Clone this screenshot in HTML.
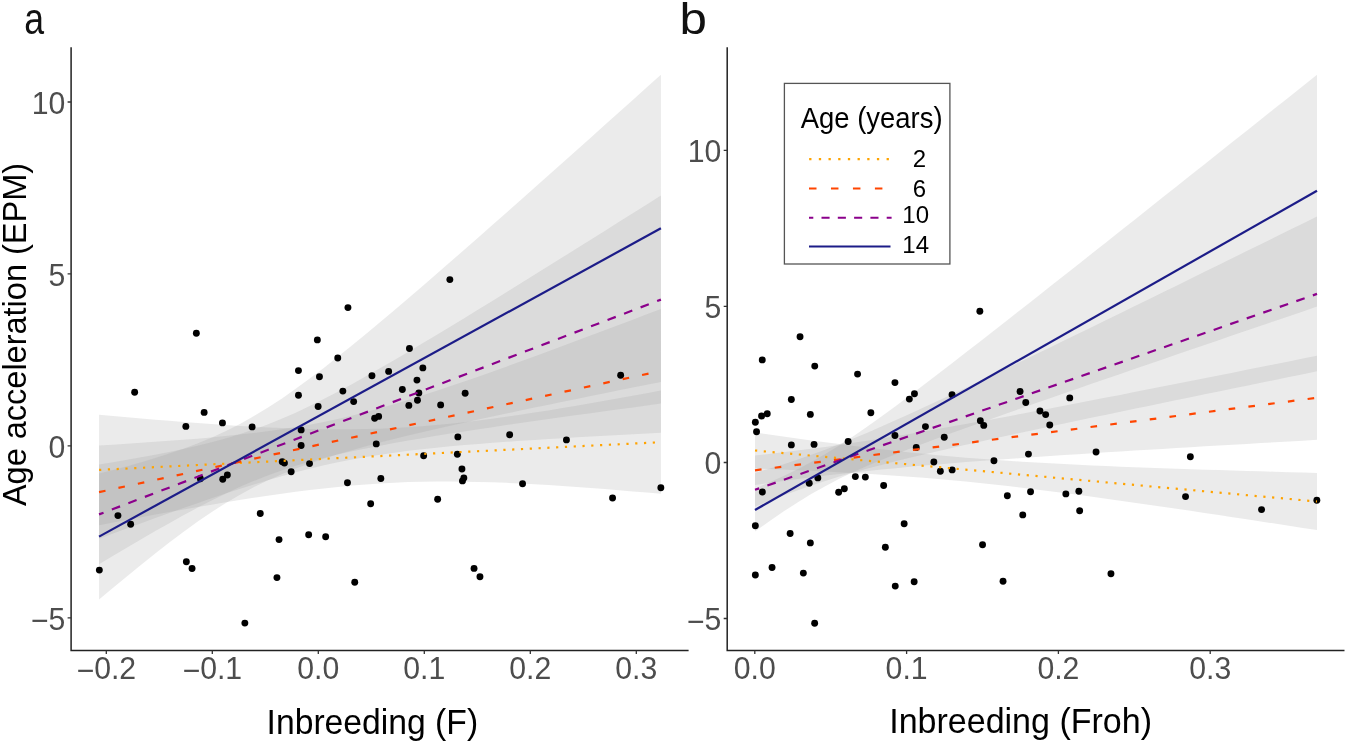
<!DOCTYPE html>
<html><head><meta charset="utf-8"><style>
html,body{margin:0;padding:0;background:#fff;width:1346px;height:742px;overflow:hidden}
svg{display:block;font-family:"Liberation Sans",sans-serif;will-change:transform}
</style></head><body>
<svg width="1346" height="742" viewBox="0 0 1346 742">
<rect width="1346" height="742" fill="#fff"/>
<path d="M99.05,414.65 L113.1,415.94 L127.14,417.2 L141.19,418.44 L155.24,419.64 L169.28,420.8 L183.33,421.93 L197.37,423.01 L211.42,424.03 L225.47,424.99 L239.51,425.89 L253.56,426.71 L267.61,427.44 L281.65,428.07 L295.7,428.59 L309.74,428.99 L323.79,429.24 L337.84,429.35 L351.88,429.29 L365.93,429.05 L379.98,428.63 L394.02,428.01 L408.07,427.21 L422.11,426.21 L436.16,425.03 L450.21,423.68 L464.25,422.16 L478.3,420.5 L492.35,418.69 L506.39,416.77 L520.44,414.73 L534.48,412.6 L548.53,410.38 L562.58,408.09 L576.62,405.73 L590.67,403.31 L604.72,400.84 L618.76,398.32 L632.81,395.77 L646.85,393.17 L660.9,390.55 L660.9,493.85 L646.85,492.61 L632.81,491.4 L618.76,490.23 L604.72,489.1 L590.67,488.01 L576.62,486.98 L562.58,486 L548.53,485.1 L534.48,484.26 L520.44,483.52 L506.39,482.87 L492.35,482.33 L478.3,481.91 L464.25,481.63 L450.21,481.49 L436.16,481.53 L422.11,481.73 L408.07,482.12 L394.02,482.7 L379.98,483.47 L365.93,484.44 L351.88,485.58 L337.84,486.91 L323.79,488.4 L309.74,490.04 L295.7,491.82 L281.65,493.73 L267.61,495.74 L253.56,497.86 L239.51,500.06 L225.47,502.34 L211.42,504.69 L197.37,507.1 L183.33,509.56 L169.28,512.07 L155.24,514.62 L141.19,517.21 L127.14,519.83 L113.1,522.48 L99.05,525.15Z" fill="#999999" fill-opacity="0.2"/>
<path d="M99.05,445.47 L113.1,444.63 L127.14,443.75 L141.19,442.83 L155.24,441.87 L169.28,440.86 L183.33,439.79 L197.37,438.64 L211.42,437.41 L225.47,436.07 L239.51,434.61 L253.56,433.01 L267.61,431.24 L281.65,429.27 L295.7,427.08 L309.74,424.64 L323.79,421.93 L337.84,418.94 L351.88,415.66 L365.93,412.11 L379.98,408.3 L394.02,404.26 L408.07,400.02 L422.11,395.6 L436.16,391.03 L450.21,386.34 L464.25,381.54 L478.3,376.64 L492.35,371.68 L506.39,366.64 L520.44,361.56 L534.48,356.42 L548.53,351.25 L562.58,346.04 L576.62,340.8 L590.67,335.54 L604.72,330.25 L618.76,324.95 L632.81,319.63 L646.85,314.29 L660.9,308.94 L660.9,432.86 L646.85,433.57 L632.81,434.29 L618.76,435.03 L604.72,435.79 L590.67,436.56 L576.62,437.36 L562.58,438.18 L548.53,439.03 L534.48,439.92 L520.44,440.84 L506.39,441.82 L492.35,442.84 L478.3,443.94 L464.25,445.1 L450.21,446.36 L436.16,447.73 L422.11,449.22 L408.07,450.86 L394.02,452.68 L379.98,454.7 L365.93,456.95 L351.88,459.46 L337.84,462.24 L323.79,465.31 L309.74,468.66 L295.7,472.28 L281.65,476.15 L267.61,480.24 L253.56,484.53 L239.51,488.99 L225.47,493.59 L211.42,498.31 L197.37,503.14 L183.33,508.05 L169.28,513.04 L155.24,518.09 L141.19,523.19 L127.14,528.33 L113.1,533.51 L99.05,538.73Z" fill="#999999" fill-opacity="0.2"/>
<path d="M99.05,464.6 L113.1,462.28 L127.14,459.87 L141.19,457.36 L155.24,454.73 L169.28,451.95 L183.33,448.99 L197.37,445.79 L211.42,442.31 L225.47,438.49 L239.51,434.28 L253.56,429.61 L267.61,424.44 L281.65,418.78 L295.7,412.63 L309.74,406.03 L323.79,399.05 L337.84,391.74 L351.88,384.15 L365.93,376.34 L379.98,368.35 L394.02,360.22 L408.07,351.97 L422.11,343.62 L436.16,335.19 L450.21,326.69 L464.25,318.14 L478.3,309.55 L492.35,300.91 L506.39,292.24 L520.44,283.54 L534.48,274.82 L548.53,266.08 L562.58,257.31 L576.62,248.53 L590.67,239.74 L604.72,230.93 L618.76,222.11 L632.81,213.29 L646.85,204.45 L660.9,195.6 L660.9,403.6 L646.85,405.49 L632.81,407.39 L618.76,409.31 L604.72,411.23 L590.67,413.16 L576.62,415.11 L562.58,417.07 L548.53,419.04 L534.48,421.04 L520.44,423.06 L506.39,425.1 L492.35,427.17 L478.3,429.27 L464.25,431.42 L450.21,433.61 L436.16,435.85 L422.11,438.16 L408.07,440.55 L394.02,443.04 L379.98,445.65 L365.93,448.4 L351.88,451.33 L337.84,454.48 L323.79,457.91 L309.74,461.67 L295.7,465.81 L281.65,470.4 L267.61,475.48 L253.56,481.05 L239.51,487.12 L225.47,493.65 L211.42,500.57 L197.37,507.83 L183.33,515.37 L169.28,523.15 L155.24,531.11 L141.19,539.22 L127.14,547.45 L113.1,555.78 L99.05,564.2Z" fill="#999999" fill-opacity="0.2"/>
<path d="M99.05,473.6 L113.1,470 L127.14,466.24 L141.19,462.29 L155.24,458.1 L169.28,453.62 L183.33,448.78 L197.37,443.5 L211.42,437.68 L225.47,431.26 L239.51,424.15 L253.56,416.34 L267.61,407.81 L281.65,398.63 L295.7,388.86 L309.74,378.58 L323.79,367.89 L337.84,356.86 L351.88,345.56 L365.93,334.03 L379.98,322.32 L394.02,310.46 L408.07,298.49 L422.11,286.42 L436.16,274.26 L450.21,262.04 L464.25,249.75 L478.3,237.42 L492.35,225.05 L506.39,212.64 L520.44,200.19 L534.48,187.73 L548.53,175.23 L562.58,162.72 L576.62,150.19 L590.67,137.64 L604.72,125.07 L618.76,112.5 L632.81,99.91 L646.85,87.31 L660.9,74.7 L660.9,381.9 L646.85,384.71 L632.81,387.52 L618.76,390.35 L604.72,393.19 L590.67,396.04 L576.62,398.9 L562.58,401.79 L548.53,404.69 L534.48,407.61 L520.44,410.56 L506.39,413.53 L492.35,416.53 L478.3,419.57 L464.25,422.66 L450.21,425.79 L436.16,428.98 L422.11,432.24 L408.07,435.58 L394.02,439.02 L379.98,442.58 L365.93,446.29 L351.88,450.17 L337.84,454.28 L323.79,458.67 L309.74,463.39 L295.7,468.53 L281.65,474.17 L267.61,480.41 L253.56,487.3 L239.51,494.9 L225.47,503.21 L211.42,512.2 L197.37,521.8 L183.33,531.93 L169.28,542.5 L155.24,553.44 L141.19,564.66 L127.14,576.13 L113.1,587.79 L99.05,599.6Z" fill="#999999" fill-opacity="0.2"/>
<path d="M755,432.57 L769.05,434.58 L783.1,436.55 L797.15,438.49 L811.2,440.4 L825.25,442.27 L839.3,444.1 L853.35,445.88 L867.4,447.6 L881.45,449.26 L895.5,450.86 L909.55,452.38 L923.6,453.83 L937.65,455.19 L951.7,456.48 L965.75,457.68 L979.8,458.81 L993.85,459.85 L1007.9,460.83 L1021.95,461.73 L1036,462.57 L1050.05,463.36 L1064.1,464.1 L1078.15,464.79 L1092.2,465.44 L1106.25,466.05 L1120.3,466.64 L1134.35,467.19 L1148.4,467.72 L1162.45,468.23 L1176.5,468.72 L1190.55,469.19 L1204.6,469.65 L1218.65,470.09 L1232.7,470.53 L1246.75,470.95 L1260.8,471.36 L1274.85,471.76 L1288.9,472.16 L1302.95,472.54 L1317,472.93 L1317,530.07 L1302.95,527.91 L1288.9,525.74 L1274.85,523.59 L1260.8,521.44 L1246.75,519.3 L1232.7,517.17 L1218.65,515.06 L1204.6,512.95 L1190.55,510.86 L1176.5,508.78 L1162.45,506.72 L1148.4,504.68 L1134.35,502.66 L1120.3,500.66 L1106.25,498.7 L1092.2,496.76 L1078.15,494.86 L1064.1,493 L1050.05,491.19 L1036,489.43 L1021.95,487.72 L1007.9,486.07 L993.85,484.5 L979.8,482.99 L965.75,481.57 L951.7,480.22 L937.65,478.96 L923.6,477.77 L909.55,476.67 L895.5,475.64 L881.45,474.69 L867.4,473.8 L853.35,472.97 L839.3,472.2 L825.25,471.48 L811.2,470.8 L797.15,470.16 L783.1,469.55 L769.05,468.97 L755,468.43Z" fill="#999999" fill-opacity="0.2"/>
<path d="M755,455.6 L769.05,454.02 L783.1,452.35 L797.15,450.61 L811.2,448.79 L825.25,446.88 L839.3,444.89 L853.35,442.83 L867.4,440.69 L881.45,438.49 L895.5,436.22 L909.55,433.9 L923.6,431.52 L937.65,429.09 L951.7,426.62 L965.75,424.11 L979.8,421.57 L993.85,418.99 L1007.9,416.39 L1021.95,413.76 L1036,411.11 L1050.05,408.45 L1064.1,405.76 L1078.15,403.06 L1092.2,400.34 L1106.25,397.61 L1120.3,394.88 L1134.35,392.12 L1148.4,389.36 L1162.45,386.6 L1176.5,383.82 L1190.55,381.04 L1204.6,378.25 L1218.65,375.45 L1232.7,372.65 L1246.75,369.84 L1260.8,367.03 L1274.85,364.22 L1288.9,361.4 L1302.95,358.57 L1317,355.75 L1317,439.85 L1302.95,440.65 L1288.9,441.45 L1274.85,442.26 L1260.8,443.07 L1246.75,443.88 L1232.7,444.7 L1218.65,445.52 L1204.6,446.35 L1190.55,447.19 L1176.5,448.03 L1162.45,448.88 L1148.4,449.74 L1134.35,450.6 L1120.3,451.47 L1106.25,452.36 L1092.2,453.26 L1078.15,454.17 L1064.1,455.09 L1050.05,456.03 L1036,456.99 L1021.95,457.96 L1007.9,458.96 L993.85,459.98 L979.8,461.03 L965.75,462.12 L951.7,463.23 L937.65,464.39 L923.6,465.58 L909.55,466.83 L895.5,468.13 L881.45,469.49 L867.4,470.91 L853.35,472.39 L839.3,473.96 L825.25,475.6 L811.2,477.31 L797.15,479.12 L783.1,481 L769.05,482.96 L755,485Z" fill="#999999" fill-opacity="0.2"/>
<path d="M755,472.91 L769.05,468.78 L783.1,464.42 L797.15,459.78 L811.2,454.87 L825.25,449.68 L839.3,444.22 L853.35,438.53 L867.4,432.63 L881.45,426.56 L895.5,420.35 L909.55,414.01 L923.6,407.58 L937.65,401.08 L951.7,394.5 L965.75,387.88 L979.8,381.21 L993.85,374.5 L1007.9,367.77 L1021.95,361 L1036,354.22 L1050.05,347.41 L1064.1,340.59 L1078.15,333.76 L1092.2,326.91 L1106.25,320.05 L1120.3,313.19 L1134.35,306.31 L1148.4,299.43 L1162.45,292.54 L1176.5,285.64 L1190.55,278.74 L1204.6,271.83 L1218.65,264.92 L1232.7,258.01 L1246.75,251.09 L1260.8,244.17 L1274.85,237.24 L1288.9,230.32 L1302.95,223.39 L1317,216.46 L1317,371.34 L1302.95,374.21 L1288.9,377.07 L1274.85,379.94 L1260.8,382.81 L1246.75,385.68 L1232.7,388.56 L1218.65,391.44 L1204.6,394.33 L1190.55,397.21 L1176.5,400.11 L1162.45,403.01 L1148.4,405.91 L1134.35,408.82 L1120.3,411.74 L1106.25,414.67 L1092.2,417.61 L1078.15,420.56 L1064.1,423.52 L1050.05,426.49 L1036,429.48 L1021.95,432.49 L1007.9,435.52 L993.85,438.58 L979.8,441.67 L965.75,444.8 L951.7,447.97 L937.65,451.19 L923.6,454.48 L909.55,457.84 L895.5,461.3 L881.45,464.88 L867.4,468.61 L853.35,472.5 L839.3,476.61 L825.25,480.95 L811.2,485.55 L797.15,490.43 L783.1,495.59 L769.05,501.02 L755,506.69Z" fill="#999999" fill-opacity="0.2"/>
<path d="M755,488.6 L769.05,482.62 L783.1,476.28 L797.15,469.46 L811.2,462.07 L825.25,454.04 L839.3,445.38 L853.35,436.15 L867.4,426.47 L881.45,416.44 L895.5,406.14 L909.55,395.66 L923.6,385.03 L937.65,374.3 L951.7,363.48 L965.75,352.6 L979.8,341.67 L993.85,330.7 L1007.9,319.7 L1021.95,308.68 L1036,297.63 L1050.05,286.56 L1064.1,275.48 L1078.15,264.38 L1092.2,253.28 L1106.25,242.16 L1120.3,231.03 L1134.35,219.9 L1148.4,208.76 L1162.45,197.62 L1176.5,186.47 L1190.55,175.32 L1204.6,164.16 L1218.65,153 L1232.7,141.84 L1246.75,130.67 L1260.8,119.5 L1274.85,108.33 L1288.9,97.15 L1302.95,85.98 L1317,74.8 L1317,306.6 L1302.95,311.39 L1288.9,316.18 L1274.85,320.97 L1260.8,325.76 L1246.75,330.56 L1232.7,335.35 L1218.65,340.15 L1204.6,344.96 L1190.55,349.77 L1176.5,354.58 L1162.45,359.39 L1148.4,364.22 L1134.35,369.04 L1120.3,373.88 L1106.25,378.72 L1092.2,383.56 L1078.15,388.42 L1064.1,393.29 L1050.05,398.18 L1036,403.07 L1021.95,407.99 L1007.9,412.93 L993.85,417.89 L979.8,422.89 L965.75,427.92 L951.7,433.01 L937.65,438.16 L923.6,443.39 L909.55,448.72 L895.5,454.21 L881.45,459.88 L867.4,465.81 L853.35,472.09 L839.3,478.83 L825.25,486.13 L811.2,494.07 L797.15,502.64 L783.1,511.79 L769.05,521.42 L755,531.4Z" fill="#999999" fill-opacity="0.2"/>
<g fill="#000">
<circle cx="196.35" cy="333.20" r="3.45"/>
<circle cx="134.65" cy="392.20" r="3.45"/>
<circle cx="317.35" cy="339.90" r="3.45"/>
<circle cx="298.45" cy="370.60" r="3.45"/>
<circle cx="319.45" cy="376.80" r="3.45"/>
<circle cx="298.45" cy="395.20" r="3.45"/>
<circle cx="318.15" cy="406.50" r="3.45"/>
<circle cx="204.15" cy="412.40" r="3.45"/>
<circle cx="185.85" cy="426.40" r="3.45"/>
<circle cx="222.45" cy="422.90" r="3.45"/>
<circle cx="252.15" cy="426.90" r="3.45"/>
<circle cx="301.15" cy="429.90" r="3.45"/>
<circle cx="301.15" cy="445.50" r="3.45"/>
<circle cx="282.25" cy="461.80" r="3.45"/>
<circle cx="284.45" cy="463.10" r="3.45"/>
<circle cx="309.55" cy="463.60" r="3.45"/>
<circle cx="291.15" cy="471.70" r="3.45"/>
<circle cx="200.35" cy="478.70" r="3.45"/>
<circle cx="222.75" cy="479.30" r="3.45"/>
<circle cx="227.35" cy="475.00" r="3.45"/>
<circle cx="117.95" cy="515.60" r="3.45"/>
<circle cx="130.65" cy="524.30" r="3.45"/>
<circle cx="260.25" cy="513.50" r="3.45"/>
<circle cx="279.05" cy="539.60" r="3.45"/>
<circle cx="308.65" cy="534.80" r="3.45"/>
<circle cx="325.65" cy="536.70" r="3.45"/>
<circle cx="99.35" cy="570.10" r="3.45"/>
<circle cx="186.35" cy="561.70" r="3.45"/>
<circle cx="192.05" cy="568.50" r="3.45"/>
<circle cx="276.95" cy="577.60" r="3.45"/>
<circle cx="244.85" cy="623.10" r="3.45"/>
<circle cx="449.85" cy="279.60" r="3.45"/>
<circle cx="347.95" cy="307.60" r="3.45"/>
<circle cx="337.75" cy="358.00" r="3.45"/>
<circle cx="409.45" cy="348.50" r="3.45"/>
<circle cx="371.95" cy="375.80" r="3.45"/>
<circle cx="388.65" cy="371.40" r="3.45"/>
<circle cx="422.85" cy="367.90" r="3.45"/>
<circle cx="416.95" cy="380.10" r="3.45"/>
<circle cx="342.85" cy="391.10" r="3.45"/>
<circle cx="402.35" cy="389.50" r="3.45"/>
<circle cx="418.85" cy="393.00" r="3.45"/>
<circle cx="465.15" cy="393.30" r="3.45"/>
<circle cx="353.65" cy="401.60" r="3.45"/>
<circle cx="408.85" cy="405.40" r="3.45"/>
<circle cx="417.45" cy="400.30" r="3.45"/>
<circle cx="440.65" cy="404.90" r="3.45"/>
<circle cx="374.65" cy="418.30" r="3.45"/>
<circle cx="378.65" cy="416.40" r="3.45"/>
<circle cx="376.25" cy="443.90" r="3.45"/>
<circle cx="457.85" cy="436.90" r="3.45"/>
<circle cx="509.65" cy="434.80" r="3.45"/>
<circle cx="566.45" cy="439.90" r="3.45"/>
<circle cx="423.65" cy="455.80" r="3.45"/>
<circle cx="457.35" cy="454.20" r="3.45"/>
<circle cx="461.95" cy="469.00" r="3.45"/>
<circle cx="463.85" cy="477.90" r="3.45"/>
<circle cx="462.45" cy="480.90" r="3.45"/>
<circle cx="347.45" cy="482.80" r="3.45"/>
<circle cx="380.85" cy="478.50" r="3.45"/>
<circle cx="522.55" cy="483.80" r="3.45"/>
<circle cx="370.65" cy="503.80" r="3.45"/>
<circle cx="437.65" cy="499.20" r="3.45"/>
<circle cx="354.75" cy="582.20" r="3.45"/>
<circle cx="474.05" cy="568.40" r="3.45"/>
<circle cx="479.95" cy="576.80" r="3.45"/>
<circle cx="620.65" cy="375.30" r="3.45"/>
<circle cx="660.85" cy="487.80" r="3.45"/>
<circle cx="612.55" cy="498.00" r="3.45"/>
<circle cx="800.05" cy="336.70" r="3.45"/>
<circle cx="762.25" cy="359.90" r="3.45"/>
<circle cx="814.75" cy="366.10" r="3.45"/>
<circle cx="857.55" cy="374.10" r="3.45"/>
<circle cx="894.95" cy="382.60" r="3.45"/>
<circle cx="914.45" cy="393.80" r="3.45"/>
<circle cx="909.35" cy="399.10" r="3.45"/>
<circle cx="952.05" cy="394.70" r="3.45"/>
<circle cx="791.35" cy="399.50" r="3.45"/>
<circle cx="767.25" cy="413.70" r="3.45"/>
<circle cx="761.55" cy="416.00" r="3.45"/>
<circle cx="810.35" cy="414.40" r="3.45"/>
<circle cx="870.85" cy="412.80" r="3.45"/>
<circle cx="755.35" cy="422.20" r="3.45"/>
<circle cx="756.55" cy="431.80" r="3.45"/>
<circle cx="925.45" cy="426.60" r="3.45"/>
<circle cx="894.95" cy="435.50" r="3.45"/>
<circle cx="944.25" cy="437.30" r="3.45"/>
<circle cx="791.35" cy="444.90" r="3.45"/>
<circle cx="814.05" cy="444.40" r="3.45"/>
<circle cx="848.15" cy="441.50" r="3.45"/>
<circle cx="916.25" cy="447.40" r="3.45"/>
<circle cx="933.85" cy="462.00" r="3.45"/>
<circle cx="940.35" cy="471.20" r="3.45"/>
<circle cx="952.15" cy="469.90" r="3.45"/>
<circle cx="762.35" cy="492.00" r="3.45"/>
<circle cx="809.25" cy="483.30" r="3.45"/>
<circle cx="817.85" cy="477.90" r="3.45"/>
<circle cx="838.65" cy="492.20" r="3.45"/>
<circle cx="844.35" cy="488.70" r="3.45"/>
<circle cx="855.35" cy="476.60" r="3.45"/>
<circle cx="865.35" cy="477.10" r="3.45"/>
<circle cx="883.65" cy="485.50" r="3.45"/>
<circle cx="755.35" cy="525.70" r="3.45"/>
<circle cx="790.15" cy="533.50" r="3.45"/>
<circle cx="810.35" cy="542.90" r="3.45"/>
<circle cx="904.15" cy="523.80" r="3.45"/>
<circle cx="885.35" cy="547.20" r="3.45"/>
<circle cx="755.35" cy="575.00" r="3.45"/>
<circle cx="772.05" cy="567.50" r="3.45"/>
<circle cx="803.35" cy="573.10" r="3.45"/>
<circle cx="895.25" cy="586.10" r="3.45"/>
<circle cx="914.15" cy="581.70" r="3.45"/>
<circle cx="814.65" cy="623.30" r="3.45"/>
<circle cx="979.85" cy="311.30" r="3.45"/>
<circle cx="1020.05" cy="391.50" r="3.45"/>
<circle cx="1025.75" cy="402.50" r="3.45"/>
<circle cx="1069.75" cy="397.90" r="3.45"/>
<circle cx="1039.95" cy="411.00" r="3.45"/>
<circle cx="1045.65" cy="414.60" r="3.45"/>
<circle cx="980.35" cy="420.80" r="3.45"/>
<circle cx="983.75" cy="425.40" r="3.45"/>
<circle cx="1049.75" cy="425.00" r="3.45"/>
<circle cx="1028.45" cy="454.10" r="3.45"/>
<circle cx="1096.05" cy="452.00" r="3.45"/>
<circle cx="993.95" cy="460.70" r="3.45"/>
<circle cx="1007.35" cy="495.70" r="3.45"/>
<circle cx="1030.55" cy="491.70" r="3.45"/>
<circle cx="1065.85" cy="493.90" r="3.45"/>
<circle cx="1078.85" cy="491.20" r="3.45"/>
<circle cx="1022.75" cy="514.90" r="3.45"/>
<circle cx="1079.65" cy="510.80" r="3.45"/>
<circle cx="982.55" cy="544.80" r="3.45"/>
<circle cx="1003.05" cy="581.20" r="3.45"/>
<circle cx="1110.95" cy="573.70" r="3.45"/>
<circle cx="1190.35" cy="456.80" r="3.45"/>
<circle cx="1185.55" cy="496.60" r="3.45"/>
<circle cx="1261.55" cy="509.60" r="3.45"/>
<circle cx="1316.85" cy="500.20" r="3.45"/>
</g>
<line x1="99.05" y1="469.9" x2="660.9" y2="442.2" stroke="#FFA300" stroke-width="2.2" stroke-dasharray="2.2 6.6" stroke-dashoffset="0"/>
<line x1="99.05" y1="492.1" x2="660.9" y2="370.9" stroke="#FF4500" stroke-width="2.2" stroke-dasharray="6.6 13.24" stroke-dashoffset="0"/>
<line x1="99.05" y1="514.4" x2="660.9" y2="299.6" stroke="#8B008B" stroke-width="2.2" stroke-dasharray="8.8 8.89" stroke-dashoffset="4.0"/>
<line x1="99.05" y1="536.6" x2="660.9" y2="228.3" stroke="#1C1C88" stroke-width="2.2"/>
<line x1="755.0" y1="450.5" x2="1317.0" y2="501.5" stroke="#FFA300" stroke-width="2.2" stroke-dasharray="2.2 6.6" stroke-dashoffset="0"/>
<line x1="755.0" y1="470.3" x2="1317.0" y2="397.8" stroke="#FF4500" stroke-width="2.2" stroke-dasharray="6.6 13.3" stroke-dashoffset="0"/>
<line x1="755.0" y1="489.8" x2="1317.0" y2="293.9" stroke="#8B008B" stroke-width="2.2" stroke-dasharray="8.8 8.705" stroke-dashoffset="4.4"/>
<line x1="755.0" y1="510.0" x2="1317.0" y2="190.7" stroke="#1C1C88" stroke-width="2.2"/>
<path d="M71.1,47.2 V650.5 H688.6" fill="none" stroke="#222" stroke-width="1.5"/>
<path d="M727.2,47.3 V650.6 H1344.5" fill="none" stroke="#222" stroke-width="1.5"/>
<path d="M67.6,102.0 H71.1 M67.6,273.8 H71.1 M67.6,445.8 H71.1 M67.6,617.8 H71.1 M106.3,650.5 V654 M212.3,650.5 V654 M318.3,650.5 V654 M424.3,650.5 V654 M530.3,650.5 V654 M636.3,650.5 V654 M723.7,150.3 H727.2 M723.7,306.4 H727.2 M723.7,462.5 H727.2 M723.7,618.5 H727.2 M754.8,650.6 V654.1 M906.6,650.6 V654.1 M1058.4,650.6 V654.1 M1210.2,650.6 V654.1" stroke="#333" stroke-width="1.3" fill="none"/>
<g font-family="Liberation Sans, sans-serif" font-size="30.2" fill="#4D4D4D"><text transform="translate(65.3,113.85) scale(1,1.03)" text-anchor="end">10</text><text transform="translate(65.3,285.65) scale(1,1.03)" text-anchor="end">5</text><text transform="translate(65.3,457.65) scale(1,1.03)" text-anchor="end">0</text><text transform="translate(65.3,629.65) scale(1,1.03)" text-anchor="end"><tspan dy="1.55">−</tspan><tspan dy="-1.55">5</tspan></text><text transform="translate(106.3,679.0) scale(1,1.03)" text-anchor="middle"><tspan dy="1.55">−</tspan><tspan dy="-1.55">0.2</tspan></text><text transform="translate(212.3,679.0) scale(1,1.03)" text-anchor="middle"><tspan dy="1.55">−</tspan><tspan dy="-1.55">0.1</tspan></text><text transform="translate(318.3,679.0) scale(1,1.03)" text-anchor="middle">0.0</text><text transform="translate(424.3,679.0) scale(1,1.03)" text-anchor="middle">0.1</text><text transform="translate(530.3,679.0) scale(1,1.03)" text-anchor="middle">0.2</text><text transform="translate(636.3,679.0) scale(1,1.03)" text-anchor="middle">0.3</text><text transform="translate(721.3,162.15) scale(1,1.03)" text-anchor="end">10</text><text transform="translate(721.3,318.25) scale(1,1.03)" text-anchor="end">5</text><text transform="translate(721.3,474.35) scale(1,1.03)" text-anchor="end">0</text><text transform="translate(721.3,630.35) scale(1,1.03)" text-anchor="end"><tspan dy="1.55">−</tspan><tspan dy="-1.55">5</tspan></text><text transform="translate(754.8,679.0) scale(1,1.03)" text-anchor="middle">0.0</text><text transform="translate(906.6,679.0) scale(1,1.03)" text-anchor="middle">0.1</text><text transform="translate(1058.4,679.0) scale(1,1.03)" text-anchor="middle">0.2</text><text transform="translate(1210.2,679.0) scale(1,1.03)" text-anchor="middle">0.3</text></g>
<g font-family="Liberation Sans, sans-serif" font-size="34" fill="#000">
<text transform="translate(266.6,733.5) scale(1,1.035)" textLength="211.5" lengthAdjust="spacingAndGlyphs">Inbreeding (F)</text>
<text transform="translate(889.2,733.4) scale(1,1.035)" textLength="262.8" lengthAdjust="spacingAndGlyphs">Inbreeding (Froh)</text>
</g>
<g font-family="Liberation Sans, sans-serif" font-size="32.5" fill="#000">
<text transform="translate(25.6,506.1) rotate(-90) scale(1,1.03)">Age acceleration (EPM)</text>
</g>
<g font-family="Liberation Sans, sans-serif" font-size="44" fill="#111">
<text transform="translate(24.2,34) scale(0.81,1)">a</text>
<text transform="translate(679.4,34) scale(1.12,1)">b</text>
</g>
<rect x="784.4" y="83.4" width="165.5" height="180.6" fill="#fff" stroke="#555" stroke-width="1.3"/>
<text font-family="Liberation Sans, sans-serif" font-size="29.5" transform="translate(800.8,128.4) scale(0.93,1)" fill="#000">Age (years)</text>
<line x1="809.15" y1="159.2" x2="893" y2="159.2" stroke="#FFA300" stroke-width="2.2" stroke-dasharray="2.3 7.38"/>
<line x1="809" y1="188.5" x2="883" y2="188.5" stroke="#FF4500" stroke-width="2.0" stroke-dasharray="7.5 14.47"/>
<line x1="809" y1="217.7" x2="891.6" y2="217.7" stroke="#8B008B" stroke-width="2.1" stroke-dasharray="8.1 8.2" stroke-dashoffset="3.8"/>
<line x1="809" y1="246.4" x2="890.5" y2="246.4" stroke="#1C1C88" stroke-width="2.0"/>
<g font-family="Liberation Sans, sans-serif" font-size="24" fill="#000" text-anchor="end">
<text x="926" y="167.3">2</text><text x="926" y="197.2">6</text><text x="929" y="222.8">10</text><text x="929" y="252.9">14</text>
</g>
</svg>
</body></html>
